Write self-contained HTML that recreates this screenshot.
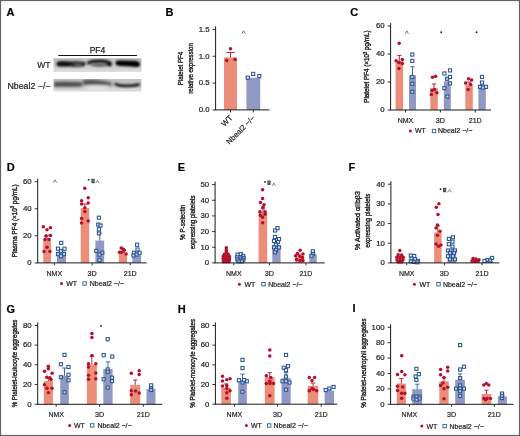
<!DOCTYPE html>
<html><head><meta charset="utf-8"><style>
html,body{margin:0;padding:0;background:#fff;}
body{width:520px;height:436px;overflow:hidden;font-family:"Liberation Sans", sans-serif;}
svg{display:block;filter:blur(0.35px);}
</style></head><body>
<svg width="520" height="436" viewBox="0 0 520 436" font-family="'Liberation Sans', sans-serif"><style>text{stroke:#222;stroke-width:0.2px;paint-order:stroke;}</style><rect x="0" y="0" width="520" height="436" fill="#fff"/><text x="6.50" y="16.00" font-size="11" text-anchor="start" font-weight="bold" fill="#000" >A</text><defs><filter id="b06" x="-20%" y="-80%" width="140%" height="260%"><feGaussianBlur stdDeviation="0.6"/></filter><filter id="b09" x="-20%" y="-80%" width="140%" height="260%"><feGaussianBlur stdDeviation="0.9"/></filter><filter id="b14" x="-20%" y="-80%" width="140%" height="260%"><feGaussianBlur stdDeviation="1.4"/></filter><linearGradient id="gw" x1="0" y1="0" x2="0" y2="1"><stop offset="0" stop-color="#b6b6b6"/><stop offset="0.25" stop-color="#c2c2c2"/><stop offset="0.65" stop-color="#cecece"/><stop offset="1" stop-color="#e0e0e0"/></linearGradient><linearGradient id="gk" x1="0" y1="0" x2="0" y2="1"><stop offset="0" stop-color="#c0c0c0"/><stop offset="0.5" stop-color="#cacaca"/><stop offset="1" stop-color="#dedede"/></linearGradient><clipPath id="cw"><rect x="53.5" y="58.3" width="88" height="13.7"/></clipPath><clipPath id="ck"><rect x="53.5" y="79" width="88" height="12.6"/></clipPath></defs><rect x="53.5" y="58.3" width="88" height="13.7" fill="url(#gw)"/><rect x="53.5" y="79" width="88" height="12.6" fill="url(#gk)"/><g clip-path="url(#cw)"><g filter="url(#b14)"><rect x="84" y="58" width="2.5" height="15" fill="#d8d8d8"/><rect x="112" y="58" width="2.5" height="15" fill="#d4d4d4"/><ellipse cx="99.5" cy="67.2" rx="10" ry="2.6" fill="#d2d2d2"/></g><g filter="url(#b09)"><path d="M56.3,63.8 Q56.3,61.2 61,61.2 Q68,61.0 73.5,62.2 L73.5,65.9 Q66,66.6 60,66.4 Q56.3,66.3 56.3,63.8 Z" fill="#080808"/><path d="M70,62.0 Q78,61.4 85,62.8 L85,66.0 Q78,67.8 70,66.4 Z" fill="#262626"/><ellipse cx="78" cy="64.6" rx="4.5" ry="1.1" fill="#6a6a6a"/><path d="M87.8,64.0 Q89.2,61.0 100,61.1 Q108.5,61.3 111.0,64.2" fill="none" stroke="#121212" stroke-width="3.4"/><path d="M70,62.6 Q78,62.0 85.5,63.2" fill="none" stroke="#111" stroke-width="1.9"/><ellipse cx="99.5" cy="65.2" rx="9" ry="1.6" fill="#5a5a5a"/><ellipse cx="109.4" cy="64.2" rx="2.4" ry="2.2" fill="#0a0a0a"/><path d="M115.4,62.6 Q115.6,60.3 120,60.4 L134,60.8 Q139.9,61.1 140,64 Q140,67.1 136.5,66.9 Q128,66.0 120,65.9 Q115.4,65.9 115.4,62.6 Z" fill="#050505"/></g></g><g clip-path="url(#ck)"><g filter="url(#b14)"><path d="M54,82.0 Q68,81.4 82,82.2 L82,86.6 Q68,87 54,86.8 Z" fill="#444"/><path d="M83,80.2 Q90,79.4 98,80.2 Q106,81.1 112,82.9 L112,85.4 Q104,84.6 96,84.4 Q89,84.4 83,84.8 Z" fill="#4a4a4a"/><ellipse cx="97" cy="88.4" rx="11" ry="2.2" fill="#e6e6e6"/></g><g filter="url(#b09)"><path d="M114.5,82.6 Q118,84.3 124,84.6 Q132,84.6 139.5,83 L139.6,86 Q132,87.4 124,87.2 Q117,86.8 114.5,85 Z" fill="#1a1a1a"/></g></g><line x1="58.3" y1="55.5" x2="137" y2="55.5" stroke="#111" stroke-width="1"/><text x="97.50" y="53.20" font-size="8.5" text-anchor="middle" font-weight="normal" fill="#222" style="stroke-width:0.25px">PF4</text><text x="50.50" y="68.30" font-size="8.6" text-anchor="end" font-weight="normal" fill="#222" style="stroke-width:0.2px">WT</text><text x="50.50" y="88.80" font-size="8.8" text-anchor="end" font-weight="normal" fill="#222" style="stroke-width:0.2px">Nbeal2 −/−</text><rect x="224" y="57.31" width="13" height="52.59" fill="#EA8D79"/><rect x="246.4" y="77.70" width="13.8" height="32.20" fill="#9099C3"/><line x1="230.5" y1="57.31" x2="230.5" y2="52.48" stroke="#B50F2C" stroke-width="0.9"/><line x1="226.3" y1="52.48" x2="234.7" y2="52.48" stroke="#B50F2C" stroke-width="0.9"/><circle cx="230.50" cy="48.72" r="1.75" fill="#B50F2C"/><circle cx="226.70" cy="60.53" r="1.75" fill="#B50F2C"/><circle cx="235.00" cy="59.45" r="1.75" fill="#B50F2C"/><rect x="246.25" y="76.15" width="3.1" height="3.1" fill="#fff" fill-opacity="0.55" stroke="#2F5994" stroke-width="1.1"/><rect x="251.65" y="72.39" width="3.1" height="3.1" fill="#fff" fill-opacity="0.55" stroke="#2F5994" stroke-width="1.1"/><rect x="257.75" y="74.54" width="3.1" height="3.1" fill="#fff" fill-opacity="0.55" stroke="#2F5994" stroke-width="1.1"/><line x1="215.6" y1="26.4" x2="215.6" y2="109.9" stroke="#1a1a1a" stroke-width="1"/><line x1="215.1" y1="109.9" x2="269.5" y2="109.9" stroke="#1a1a1a" stroke-width="1"/><line x1="212.6" y1="109.90" x2="215.6" y2="109.90" stroke="#1a1a1a" stroke-width="0.9"/><text x="209.60" y="112.20" font-size="7.8" text-anchor="end" font-weight="normal" fill="#222" >0.0</text><line x1="212.6" y1="83.07" x2="215.6" y2="83.07" stroke="#1a1a1a" stroke-width="0.9"/><text x="209.60" y="85.37" font-size="7.8" text-anchor="end" font-weight="normal" fill="#222" >0.5</text><line x1="212.6" y1="56.23" x2="215.6" y2="56.23" stroke="#1a1a1a" stroke-width="0.9"/><text x="209.60" y="58.53" font-size="7.8" text-anchor="end" font-weight="normal" fill="#222" >1.0</text><line x1="212.6" y1="29.40" x2="215.6" y2="29.40" stroke="#1a1a1a" stroke-width="0.9"/><text x="209.60" y="31.70" font-size="7.8" text-anchor="end" font-weight="normal" fill="#222" >1.5</text><line x1="230.5" y1="109.9" x2="230.5" y2="112.4" stroke="#1a1a1a" stroke-width="0.9"/><line x1="253.3" y1="109.9" x2="253.3" y2="112.4" stroke="#1a1a1a" stroke-width="0.9"/><text transform="translate(233.0,118.4) rotate(-45)" font-size="7.8" text-anchor="end" fill="#222">WT</text><text transform="translate(255.6,118.6) rotate(-45)" font-size="7.6" text-anchor="end" fill="#222">Nbeal2 −/−</text><path d="M241.70,33.80 L243.60,30.80 L245.50,33.80" fill="none" stroke="#666" stroke-width="0.85"/><text transform="translate(182.5,68.5) rotate(-90)" font-size="7.6" text-anchor="middle" fill="#222" textLength="33.4" style="stroke-width:0.38px" lengthAdjust="spacingAndGlyphs">Platelet PF4</text><text transform="translate(193.2,68.5) rotate(-90)" font-size="7.6" text-anchor="middle" fill="#222" textLength="50.5" style="stroke-width:0.38px" lengthAdjust="spacingAndGlyphs">relative expression</text><text x="165.60" y="16.00" font-size="11" text-anchor="start" font-weight="bold" fill="#000" >B</text><rect x="395.60" y="61.00" width="7.50" height="49.00" fill="#EA8D79"/><rect x="409.00" y="75.42" width="7.00" height="34.58" fill="#9099C3"/><rect x="430.30" y="88.16" width="7.50" height="21.84" fill="#EA8D79"/><rect x="443.80" y="81.30" width="7.00" height="28.70" fill="#9099C3"/><rect x="465.30" y="84.38" width="7.50" height="25.62" fill="#EA8D79"/><rect x="478.40" y="86.20" width="7.40" height="23.80" fill="#9099C3"/><line x1="399.35" y1="61.00" x2="399.35" y2="55.40" stroke="#B50F2C" stroke-width="0.9"/><line x1="397.15" y1="55.40" x2="401.55" y2="55.40" stroke="#B50F2C" stroke-width="0.9"/><circle cx="399.20" cy="43.36" r="1.75" fill="#B50F2C"/><circle cx="396.10" cy="60.86" r="1.75" fill="#B50F2C"/><circle cx="402.30" cy="59.60" r="1.75" fill="#B50F2C"/><circle cx="402.30" cy="63.38" r="1.75" fill="#B50F2C"/><circle cx="398.90" cy="62.40" r="1.75" fill="#B50F2C"/><circle cx="398.90" cy="68.56" r="1.75" fill="#B50F2C"/><line x1="412.50" y1="75.42" x2="412.50" y2="66.74" stroke="#2F5994" stroke-width="0.9"/><line x1="410.30" y1="66.74" x2="414.70" y2="66.74" stroke="#2F5994" stroke-width="0.9"/><rect x="410.75" y="53.01" width="3.1" height="3.1" fill="#fff" fill-opacity="0.55" stroke="#2F5994" stroke-width="1.1"/><rect x="410.75" y="59.31" width="3.1" height="3.1" fill="#fff" fill-opacity="0.55" stroke="#2F5994" stroke-width="1.1"/><rect x="410.75" y="75.41" width="3.1" height="3.1" fill="#fff" fill-opacity="0.55" stroke="#2F5994" stroke-width="1.1"/><rect x="410.75" y="82.27" width="3.1" height="3.1" fill="#fff" fill-opacity="0.55" stroke="#2F5994" stroke-width="1.1"/><rect x="410.75" y="90.25" width="3.1" height="3.1" fill="#fff" fill-opacity="0.55" stroke="#2F5994" stroke-width="1.1"/><line x1="434.05" y1="88.16" x2="434.05" y2="83.96" stroke="#B50F2C" stroke-width="0.9"/><line x1="431.85" y1="83.96" x2="436.25" y2="83.96" stroke="#B50F2C" stroke-width="0.9"/><circle cx="432.50" cy="77.24" r="1.75" fill="#B50F2C"/><circle cx="435.60" cy="76.26" r="1.75" fill="#B50F2C"/><circle cx="434.40" cy="89.42" r="1.75" fill="#B50F2C"/><circle cx="436.90" cy="92.78" r="1.75" fill="#B50F2C"/><circle cx="431.30" cy="94.46" r="1.75" fill="#B50F2C"/><circle cx="432.00" cy="90.54" r="1.75" fill="#B50F2C"/><line x1="447.30" y1="81.30" x2="447.30" y2="78.50" stroke="#2F5994" stroke-width="0.9"/><line x1="445.10" y1="78.50" x2="449.50" y2="78.50" stroke="#2F5994" stroke-width="0.9"/><rect x="442.85" y="71.91" width="3.1" height="3.1" fill="#fff" fill-opacity="0.55" stroke="#2F5994" stroke-width="1.1"/><rect x="448.45" y="68.83" width="3.1" height="3.1" fill="#fff" fill-opacity="0.55" stroke="#2F5994" stroke-width="1.1"/><rect x="448.45" y="75.41" width="3.1" height="3.1" fill="#fff" fill-opacity="0.55" stroke="#2F5994" stroke-width="1.1"/><rect x="445.45" y="77.23" width="3.1" height="3.1" fill="#fff" fill-opacity="0.55" stroke="#2F5994" stroke-width="1.1"/><rect x="442.85" y="86.61" width="3.1" height="3.1" fill="#fff" fill-opacity="0.55" stroke="#2F5994" stroke-width="1.1"/><rect x="445.95" y="95.01" width="3.1" height="3.1" fill="#fff" fill-opacity="0.55" stroke="#2F5994" stroke-width="1.1"/><rect x="448.45" y="81.85" width="3.1" height="3.1" fill="#fff" fill-opacity="0.55" stroke="#2F5994" stroke-width="1.1"/><line x1="469.05" y1="84.38" x2="469.05" y2="82.00" stroke="#B50F2C" stroke-width="0.9"/><line x1="466.85" y1="82.00" x2="471.25" y2="82.00" stroke="#B50F2C" stroke-width="0.9"/><circle cx="468.50" cy="78.78" r="1.75" fill="#B50F2C"/><circle cx="471.60" cy="80.04" r="1.75" fill="#B50F2C"/><circle cx="465.60" cy="83.12" r="1.75" fill="#B50F2C"/><circle cx="470.60" cy="84.38" r="1.75" fill="#B50F2C"/><circle cx="468.10" cy="89.42" r="1.75" fill="#B50F2C"/><line x1="482.10" y1="86.20" x2="482.10" y2="84.80" stroke="#2F5994" stroke-width="0.9"/><line x1="479.90" y1="84.80" x2="484.30" y2="84.80" stroke="#2F5994" stroke-width="0.9"/><rect x="480.45" y="75.41" width="3.1" height="3.1" fill="#fff" fill-opacity="0.55" stroke="#2F5994" stroke-width="1.1"/><rect x="480.45" y="81.01" width="3.1" height="3.1" fill="#fff" fill-opacity="0.55" stroke="#2F5994" stroke-width="1.1"/><rect x="478.45" y="85.35" width="3.1" height="3.1" fill="#fff" fill-opacity="0.55" stroke="#2F5994" stroke-width="1.1"/><rect x="484.45" y="85.35" width="3.1" height="3.1" fill="#fff" fill-opacity="0.55" stroke="#2F5994" stroke-width="1.1"/><rect x="481.45" y="86.05" width="3.1" height="3.1" fill="#fff" fill-opacity="0.55" stroke="#2F5994" stroke-width="1.1"/><line x1="390.60" y1="23.00" x2="390.60" y2="110.00" stroke="#1a1a1a" stroke-width="1"/><line x1="390.10" y1="110.00" x2="491.00" y2="110.00" stroke="#1a1a1a" stroke-width="1"/><line x1="387.60" y1="110.00" x2="390.60" y2="110.00" stroke="#1a1a1a" stroke-width="0.9"/><text x="384.60" y="112.30" font-size="7.8" text-anchor="end" font-weight="normal" fill="#222" >0</text><line x1="387.60" y1="82.00" x2="390.60" y2="82.00" stroke="#1a1a1a" stroke-width="0.9"/><text x="384.60" y="84.30" font-size="7.8" text-anchor="end" font-weight="normal" fill="#222" >20</text><line x1="387.60" y1="54.00" x2="390.60" y2="54.00" stroke="#1a1a1a" stroke-width="0.9"/><text x="384.60" y="56.30" font-size="7.8" text-anchor="end" font-weight="normal" fill="#222" >40</text><line x1="387.60" y1="26.00" x2="390.60" y2="26.00" stroke="#1a1a1a" stroke-width="0.9"/><text x="384.60" y="28.30" font-size="7.8" text-anchor="end" font-weight="normal" fill="#222" >60</text><line x1="405.50" y1="110.00" x2="405.50" y2="112.50" stroke="#1a1a1a" stroke-width="0.9"/><line x1="440.40" y1="110.00" x2="440.40" y2="112.50" stroke="#1a1a1a" stroke-width="0.9"/><line x1="475.20" y1="110.00" x2="475.20" y2="112.50" stroke="#1a1a1a" stroke-width="0.9"/><text x="405.50" y="122.60" font-size="8.0" text-anchor="middle" font-weight="normal" fill="#222" textLength="15.6" lengthAdjust="spacingAndGlyphs">NMX</text><text x="440.40" y="122.60" font-size="8.0" text-anchor="middle" font-weight="normal" fill="#222" textLength="9.2" lengthAdjust="spacingAndGlyphs">3D</text><text x="475.20" y="122.60" font-size="8.0" text-anchor="middle" font-weight="normal" fill="#222" textLength="13.0" lengthAdjust="spacingAndGlyphs">21D</text><text transform="translate(369.00,66.60) rotate(-90)" font-size="7.0" text-anchor="middle" fill="#222" textLength="72.4" lengthAdjust="spacingAndGlyphs" style="stroke-width:0.38px">Platelet PF4 (×10<tspan dy="-2.2" font-size="4.6">3</tspan><tspan dy="2.2"> pg/mL)</tspan></text><path d="M405.30,33.80 L406.85,30.80 L408.40,33.80" fill="none" stroke="#666" stroke-width="0.85"/><circle cx="441.20" cy="32.20" r="0.95" fill="#222"/><circle cx="476.60" cy="32.20" r="0.95" fill="#222"/><circle cx="410.40" cy="131.00" r="1.5" fill="#B50F2C"/><text x="415.00" y="133.40" font-size="7.0" text-anchor="start" font-weight="normal" fill="#222" >WT</text><rect x="432.30" y="129.30" width="3.4" height="3.4" fill="none" stroke="#2F5994" stroke-width="0.9"/><text x="438.00" y="133.40" font-size="7.0" text-anchor="start" font-weight="normal" fill="#222" >Nbeal2 −/−</text><text x="350.30" y="16.00" font-size="11" text-anchor="start" font-weight="bold" fill="#000" >C</text><rect x="43.30" y="239.22" width="7.60" height="23.68" fill="#EA8D79"/><rect x="57.00" y="251.40" width="9.00" height="11.50" fill="#9099C3"/><rect x="80.70" y="208.09" width="8.50" height="54.81" fill="#EA8D79"/><rect x="95.40" y="240.57" width="8.80" height="22.33" fill="#9099C3"/><rect x="118.80" y="253.56" width="8.30" height="9.34" fill="#EA8D79"/><rect x="132.30" y="253.97" width="8.90" height="8.93" fill="#9099C3"/><line x1="47.10" y1="239.22" x2="47.10" y2="235.16" stroke="#B50F2C" stroke-width="0.9"/><line x1="44.90" y1="235.16" x2="49.30" y2="235.16" stroke="#B50F2C" stroke-width="0.9"/><circle cx="43.30" cy="226.77" r="1.75" fill="#B50F2C"/><circle cx="50.50" cy="227.85" r="1.75" fill="#B50F2C"/><circle cx="47.00" cy="229.74" r="1.75" fill="#B50F2C"/><circle cx="45.90" cy="235.97" r="1.75" fill="#B50F2C"/><circle cx="50.50" cy="235.43" r="1.75" fill="#B50F2C"/><circle cx="45.00" cy="239.62" r="1.75" fill="#B50F2C"/><circle cx="49.00" cy="239.62" r="1.75" fill="#B50F2C"/><circle cx="47.00" cy="247.20" r="1.75" fill="#B50F2C"/><circle cx="44.00" cy="251.40" r="1.75" fill="#B50F2C"/><circle cx="50.00" cy="251.40" r="1.75" fill="#B50F2C"/><line x1="61.50" y1="251.40" x2="61.50" y2="249.37" stroke="#2F5994" stroke-width="0.9"/><line x1="59.30" y1="249.37" x2="63.70" y2="249.37" stroke="#2F5994" stroke-width="0.9"/><rect x="59.65" y="241.32" width="3.1" height="3.1" fill="#fff" fill-opacity="0.55" stroke="#2F5994" stroke-width="1.1"/><rect x="56.45" y="247.14" width="3.1" height="3.1" fill="#fff" fill-opacity="0.55" stroke="#2F5994" stroke-width="1.1"/><rect x="62.95" y="247.14" width="3.1" height="3.1" fill="#fff" fill-opacity="0.55" stroke="#2F5994" stroke-width="1.1"/><rect x="59.45" y="249.58" width="3.1" height="3.1" fill="#fff" fill-opacity="0.55" stroke="#2F5994" stroke-width="1.1"/><rect x="56.45" y="252.55" width="3.1" height="3.1" fill="#fff" fill-opacity="0.55" stroke="#2F5994" stroke-width="1.1"/><rect x="62.45" y="252.55" width="3.1" height="3.1" fill="#fff" fill-opacity="0.55" stroke="#2F5994" stroke-width="1.1"/><rect x="59.45" y="254.58" width="3.1" height="3.1" fill="#fff" fill-opacity="0.55" stroke="#2F5994" stroke-width="1.1"/><line x1="84.95" y1="208.09" x2="84.95" y2="204.03" stroke="#B50F2C" stroke-width="0.9"/><line x1="82.75" y1="204.03" x2="87.15" y2="204.03" stroke="#B50F2C" stroke-width="0.9"/><circle cx="84.80" cy="188.20" r="1.75" fill="#B50F2C"/><circle cx="81.60" cy="200.65" r="1.75" fill="#B50F2C"/><circle cx="88.20" cy="197.80" r="1.75" fill="#B50F2C"/><circle cx="81.60" cy="204.03" r="1.75" fill="#B50F2C"/><circle cx="88.20" cy="203.08" r="1.75" fill="#B50F2C"/><circle cx="84.80" cy="207.68" r="1.75" fill="#B50F2C"/><circle cx="84.80" cy="211.47" r="1.75" fill="#B50F2C"/><circle cx="81.60" cy="218.38" r="1.75" fill="#B50F2C"/><circle cx="88.20" cy="220.95" r="1.75" fill="#B50F2C"/><circle cx="81.60" cy="223.11" r="1.75" fill="#B50F2C"/><line x1="99.80" y1="240.57" x2="99.80" y2="233.13" stroke="#2F5994" stroke-width="0.9"/><line x1="97.60" y1="233.13" x2="102.00" y2="233.13" stroke="#2F5994" stroke-width="0.9"/><rect x="97.35" y="216.15" width="3.1" height="3.1" fill="#fff" fill-opacity="0.55" stroke="#2F5994" stroke-width="1.1"/><rect x="96.65" y="223.05" width="3.1" height="3.1" fill="#fff" fill-opacity="0.55" stroke="#2F5994" stroke-width="1.1"/><rect x="98.95" y="224.00" width="3.1" height="3.1" fill="#fff" fill-opacity="0.55" stroke="#2F5994" stroke-width="1.1"/><rect x="97.45" y="227.79" width="3.1" height="3.1" fill="#fff" fill-opacity="0.55" stroke="#2F5994" stroke-width="1.1"/><rect x="97.45" y="231.85" width="3.1" height="3.1" fill="#fff" fill-opacity="0.55" stroke="#2F5994" stroke-width="1.1"/><rect x="94.75" y="249.31" width="3.1" height="3.1" fill="#fff" fill-opacity="0.55" stroke="#2F5994" stroke-width="1.1"/><rect x="100.75" y="251.20" width="3.1" height="3.1" fill="#fff" fill-opacity="0.55" stroke="#2F5994" stroke-width="1.1"/><rect x="97.95" y="253.09" width="3.1" height="3.1" fill="#fff" fill-opacity="0.55" stroke="#2F5994" stroke-width="1.1"/><rect x="97.95" y="258.64" width="3.1" height="3.1" fill="#fff" fill-opacity="0.55" stroke="#2F5994" stroke-width="1.1"/><line x1="122.95" y1="253.56" x2="122.95" y2="252.34" stroke="#B50F2C" stroke-width="0.9"/><line x1="120.75" y1="252.34" x2="125.15" y2="252.34" stroke="#B50F2C" stroke-width="0.9"/><circle cx="121.20" cy="247.88" r="1.75" fill="#B50F2C"/><circle cx="123.30" cy="249.23" r="1.75" fill="#B50F2C"/><circle cx="124.30" cy="250.18" r="1.75" fill="#B50F2C"/><circle cx="119.50" cy="252.34" r="1.75" fill="#B50F2C"/><circle cx="126.10" cy="253.97" r="1.75" fill="#B50F2C"/><circle cx="121.50" cy="252.34" r="1.75" fill="#B50F2C"/><line x1="136.75" y1="253.97" x2="136.75" y2="252.75" stroke="#2F5994" stroke-width="0.9"/><line x1="134.55" y1="252.75" x2="138.95" y2="252.75" stroke="#2F5994" stroke-width="0.9"/><rect x="135.55" y="243.22" width="3.1" height="3.1" fill="#fff" fill-opacity="0.55" stroke="#2F5994" stroke-width="1.1"/><rect x="135.95" y="247.95" width="3.1" height="3.1" fill="#fff" fill-opacity="0.55" stroke="#2F5994" stroke-width="1.1"/><rect x="132.45" y="251.20" width="3.1" height="3.1" fill="#fff" fill-opacity="0.55" stroke="#2F5994" stroke-width="1.1"/><rect x="137.95" y="251.20" width="3.1" height="3.1" fill="#fff" fill-opacity="0.55" stroke="#2F5994" stroke-width="1.1"/><rect x="134.95" y="252.96" width="3.1" height="3.1" fill="#fff" fill-opacity="0.55" stroke="#2F5994" stroke-width="1.1"/><rect x="131.95" y="253.91" width="3.1" height="3.1" fill="#fff" fill-opacity="0.55" stroke="#2F5994" stroke-width="1.1"/><line x1="37.70" y1="178.70" x2="37.70" y2="262.90" stroke="#1a1a1a" stroke-width="1"/><line x1="37.20" y1="262.90" x2="146.60" y2="262.90" stroke="#1a1a1a" stroke-width="1"/><line x1="34.70" y1="262.90" x2="37.70" y2="262.90" stroke="#1a1a1a" stroke-width="0.9"/><text x="31.70" y="265.20" font-size="7.8" text-anchor="end" font-weight="normal" fill="#222" >0</text><line x1="34.70" y1="235.83" x2="37.70" y2="235.83" stroke="#1a1a1a" stroke-width="0.9"/><text x="31.70" y="238.13" font-size="7.8" text-anchor="end" font-weight="normal" fill="#222" >20</text><line x1="34.70" y1="208.77" x2="37.70" y2="208.77" stroke="#1a1a1a" stroke-width="0.9"/><text x="31.70" y="211.07" font-size="7.8" text-anchor="end" font-weight="normal" fill="#222" >40</text><line x1="34.70" y1="181.70" x2="37.70" y2="181.70" stroke="#1a1a1a" stroke-width="0.9"/><text x="31.70" y="184.00" font-size="7.8" text-anchor="end" font-weight="normal" fill="#222" >60</text><line x1="54.30" y1="262.90" x2="54.30" y2="265.40" stroke="#1a1a1a" stroke-width="0.9"/><line x1="92.20" y1="262.90" x2="92.20" y2="265.40" stroke="#1a1a1a" stroke-width="0.9"/><line x1="130.20" y1="262.90" x2="130.20" y2="265.40" stroke="#1a1a1a" stroke-width="0.9"/><text x="54.30" y="275.80" font-size="8.0" text-anchor="middle" font-weight="normal" fill="#222" textLength="15.6" lengthAdjust="spacingAndGlyphs">NMX</text><text x="92.20" y="275.80" font-size="8.0" text-anchor="middle" font-weight="normal" fill="#222" textLength="9.2" lengthAdjust="spacingAndGlyphs">3D</text><text x="130.20" y="275.80" font-size="8.0" text-anchor="middle" font-weight="normal" fill="#222" textLength="13.0" lengthAdjust="spacingAndGlyphs">21D</text><text transform="translate(16.60,220.85) rotate(-90)" font-size="7.2" text-anchor="middle" fill="#222" textLength="72.9" lengthAdjust="spacingAndGlyphs" style="stroke-width:0.38px">Plasma PF4 (×10<tspan dy="-2.2" font-size="4.6">3</tspan><tspan dy="2.2"> pg/mL)</tspan></text><path d="M53.30,182.60 L55.00,179.80 L56.70,182.60" fill="none" stroke="#666" stroke-width="0.85"/><circle cx="88.60" cy="179.60" r="0.95" fill="#222"/><rect x="91.40" y="178.70" width="3.2" height="4.5" rx="0.6" fill="#4a4a4a"/><rect x="92.50" y="180.20" width="1.0" height="1.3" fill="#9a9a9a"/><path d="M95.60,183.20 L97.40,180.40 L99.20,183.20" fill="none" stroke="#666" stroke-width="0.85"/><circle cx="61.50" cy="283.50" r="1.5" fill="#B50F2C"/><text x="66.20" y="285.90" font-size="7.0" text-anchor="start" font-weight="normal" fill="#222" >WT</text><rect x="82.90" y="281.80" width="3.4" height="3.4" fill="none" stroke="#2F5994" stroke-width="0.9"/><text x="89.70" y="285.90" font-size="7.0" text-anchor="start" font-weight="normal" fill="#222" >Nbeal2 −/−</text><text x="6.80" y="170.60" font-size="11" text-anchor="start" font-weight="bold" fill="#000" >D</text><rect x="222.30" y="257.42" width="8.00" height="5.48" fill="#EA8D79"/><rect x="236.00" y="257.89" width="8.00" height="5.01" fill="#9099C3"/><rect x="258.60" y="211.69" width="8.60" height="51.21" fill="#EA8D79"/><rect x="272.30" y="244.89" width="8.30" height="18.01" fill="#9099C3"/><rect x="295.30" y="256.32" width="8.00" height="6.58" fill="#EA8D79"/><rect x="309.30" y="254.29" width="7.50" height="8.61" fill="#9099C3"/><line x1="226.30" y1="257.42" x2="226.30" y2="256.32" stroke="#B50F2C" stroke-width="0.9"/><line x1="224.10" y1="256.32" x2="228.50" y2="256.32" stroke="#B50F2C" stroke-width="0.9"/><circle cx="226.30" cy="247.87" r="1.75" fill="#B50F2C"/><circle cx="226.30" cy="250.22" r="1.75" fill="#B50F2C"/><circle cx="226.30" cy="252.25" r="1.75" fill="#B50F2C"/><circle cx="224.40" cy="254.13" r="1.75" fill="#B50F2C"/><circle cx="228.20" cy="254.13" r="1.75" fill="#B50F2C"/><circle cx="223.30" cy="256.17" r="1.75" fill="#B50F2C"/><circle cx="226.30" cy="256.17" r="1.75" fill="#B50F2C"/><circle cx="229.30" cy="256.17" r="1.75" fill="#B50F2C"/><circle cx="223.30" cy="258.20" r="1.75" fill="#B50F2C"/><circle cx="226.30" cy="258.20" r="1.75" fill="#B50F2C"/><circle cx="229.30" cy="258.20" r="1.75" fill="#B50F2C"/><circle cx="223.30" cy="260.08" r="1.75" fill="#B50F2C"/><circle cx="226.30" cy="260.08" r="1.75" fill="#B50F2C"/><circle cx="229.30" cy="260.08" r="1.75" fill="#B50F2C"/><circle cx="223.60" cy="261.80" r="1.75" fill="#B50F2C"/><circle cx="226.30" cy="261.80" r="1.75" fill="#B50F2C"/><circle cx="229.00" cy="261.80" r="1.75" fill="#B50F2C"/><line x1="240.00" y1="257.89" x2="240.00" y2="256.95" stroke="#2F5994" stroke-width="0.9"/><line x1="237.80" y1="256.95" x2="242.20" y2="256.95" stroke="#2F5994" stroke-width="0.9"/><rect x="236.05" y="253.05" width="3.1" height="3.1" fill="#fff" fill-opacity="0.55" stroke="#2F5994" stroke-width="1.1"/><rect x="239.25" y="252.58" width="3.1" height="3.1" fill="#fff" fill-opacity="0.55" stroke="#2F5994" stroke-width="1.1"/><rect x="241.65" y="254.46" width="3.1" height="3.1" fill="#fff" fill-opacity="0.55" stroke="#2F5994" stroke-width="1.1"/><rect x="235.45" y="255.71" width="3.1" height="3.1" fill="#fff" fill-opacity="0.55" stroke="#2F5994" stroke-width="1.1"/><rect x="238.65" y="256.03" width="3.1" height="3.1" fill="#fff" fill-opacity="0.55" stroke="#2F5994" stroke-width="1.1"/><rect x="241.95" y="256.34" width="3.1" height="3.1" fill="#fff" fill-opacity="0.55" stroke="#2F5994" stroke-width="1.1"/><rect x="235.75" y="257.75" width="3.1" height="3.1" fill="#fff" fill-opacity="0.55" stroke="#2F5994" stroke-width="1.1"/><rect x="238.95" y="258.06" width="3.1" height="3.1" fill="#fff" fill-opacity="0.55" stroke="#2F5994" stroke-width="1.1"/><rect x="241.75" y="258.22" width="3.1" height="3.1" fill="#fff" fill-opacity="0.55" stroke="#2F5994" stroke-width="1.1"/><rect x="237.05" y="259.78" width="3.1" height="3.1" fill="#fff" fill-opacity="0.55" stroke="#2F5994" stroke-width="1.1"/><rect x="240.45" y="259.78" width="3.1" height="3.1" fill="#fff" fill-opacity="0.55" stroke="#2F5994" stroke-width="1.1"/><line x1="262.90" y1="211.69" x2="262.90" y2="208.87" stroke="#B50F2C" stroke-width="0.9"/><line x1="260.70" y1="208.87" x2="265.10" y2="208.87" stroke="#B50F2C" stroke-width="0.9"/><circle cx="262.60" cy="189.77" r="1.75" fill="#B50F2C"/><circle cx="262.60" cy="198.54" r="1.75" fill="#B50F2C"/><circle cx="260.50" cy="202.45" r="1.75" fill="#B50F2C"/><circle cx="264.00" cy="204.64" r="1.75" fill="#B50F2C"/><circle cx="263.00" cy="207.15" r="1.75" fill="#B50F2C"/><circle cx="260.00" cy="211.69" r="1.75" fill="#B50F2C"/><circle cx="265.00" cy="211.69" r="1.75" fill="#B50F2C"/><circle cx="260.50" cy="215.29" r="1.75" fill="#B50F2C"/><circle cx="265.00" cy="214.35" r="1.75" fill="#B50F2C"/><circle cx="262.60" cy="217.17" r="1.75" fill="#B50F2C"/><circle cx="262.60" cy="222.65" r="1.75" fill="#B50F2C"/><line x1="276.45" y1="244.89" x2="276.45" y2="242.54" stroke="#2F5994" stroke-width="0.9"/><line x1="274.25" y1="242.54" x2="278.65" y2="242.54" stroke="#2F5994" stroke-width="0.9"/><rect x="275.95" y="226.58" width="3.1" height="3.1" fill="#fff" fill-opacity="0.55" stroke="#2F5994" stroke-width="1.1"/><rect x="273.55" y="228.93" width="3.1" height="3.1" fill="#fff" fill-opacity="0.55" stroke="#2F5994" stroke-width="1.1"/><rect x="273.45" y="235.35" width="3.1" height="3.1" fill="#fff" fill-opacity="0.55" stroke="#2F5994" stroke-width="1.1"/><rect x="277.45" y="237.55" width="3.1" height="3.1" fill="#fff" fill-opacity="0.55" stroke="#2F5994" stroke-width="1.1"/><rect x="272.45" y="239.43" width="3.1" height="3.1" fill="#fff" fill-opacity="0.55" stroke="#2F5994" stroke-width="1.1"/><rect x="276.45" y="240.37" width="3.1" height="3.1" fill="#fff" fill-opacity="0.55" stroke="#2F5994" stroke-width="1.1"/><rect x="274.45" y="243.03" width="3.1" height="3.1" fill="#fff" fill-opacity="0.55" stroke="#2F5994" stroke-width="1.1"/><rect x="272.45" y="245.85" width="3.1" height="3.1" fill="#fff" fill-opacity="0.55" stroke="#2F5994" stroke-width="1.1"/><rect x="277.45" y="245.85" width="3.1" height="3.1" fill="#fff" fill-opacity="0.55" stroke="#2F5994" stroke-width="1.1"/><rect x="274.45" y="248.51" width="3.1" height="3.1" fill="#fff" fill-opacity="0.55" stroke="#2F5994" stroke-width="1.1"/><rect x="273.45" y="250.70" width="3.1" height="3.1" fill="#fff" fill-opacity="0.55" stroke="#2F5994" stroke-width="1.1"/><line x1="299.30" y1="256.32" x2="299.30" y2="255.07" stroke="#B50F2C" stroke-width="0.9"/><line x1="297.10" y1="255.07" x2="301.50" y2="255.07" stroke="#B50F2C" stroke-width="0.9"/><circle cx="300.10" cy="250.37" r="1.75" fill="#B50F2C"/><circle cx="297.50" cy="253.50" r="1.75" fill="#B50F2C"/><circle cx="303.00" cy="253.97" r="1.75" fill="#B50F2C"/><circle cx="295.50" cy="255.85" r="1.75" fill="#B50F2C"/><circle cx="300.00" cy="256.17" r="1.75" fill="#B50F2C"/><circle cx="302.50" cy="257.42" r="1.75" fill="#B50F2C"/><circle cx="296.50" cy="259.45" r="1.75" fill="#B50F2C"/><circle cx="300.00" cy="260.39" r="1.75" fill="#B50F2C"/><circle cx="303.00" cy="260.55" r="1.75" fill="#B50F2C"/><line x1="313.05" y1="254.29" x2="313.05" y2="253.03" stroke="#2F5994" stroke-width="0.9"/><line x1="310.85" y1="253.03" x2="315.25" y2="253.03" stroke="#2F5994" stroke-width="0.9"/><rect x="311.35" y="249.76" width="3.1" height="3.1" fill="#fff" fill-opacity="0.55" stroke="#2F5994" stroke-width="1.1"/><rect x="311.35" y="252.42" width="3.1" height="3.1" fill="#fff" fill-opacity="0.55" stroke="#2F5994" stroke-width="1.1"/><rect x="309.95" y="254.30" width="3.1" height="3.1" fill="#fff" fill-opacity="0.55" stroke="#2F5994" stroke-width="1.1"/><line x1="215.10" y1="181.60" x2="215.10" y2="262.90" stroke="#1a1a1a" stroke-width="1"/><line x1="214.60" y1="262.90" x2="324.70" y2="262.90" stroke="#1a1a1a" stroke-width="1"/><line x1="212.10" y1="262.90" x2="215.10" y2="262.90" stroke="#1a1a1a" stroke-width="0.9"/><text x="209.10" y="265.20" font-size="7.8" text-anchor="end" font-weight="normal" fill="#222" >0</text><line x1="212.10" y1="247.24" x2="215.10" y2="247.24" stroke="#1a1a1a" stroke-width="0.9"/><text x="209.10" y="249.54" font-size="7.8" text-anchor="end" font-weight="normal" fill="#222" >10</text><line x1="212.10" y1="231.58" x2="215.10" y2="231.58" stroke="#1a1a1a" stroke-width="0.9"/><text x="209.10" y="233.88" font-size="7.8" text-anchor="end" font-weight="normal" fill="#222" >20</text><line x1="212.10" y1="215.92" x2="215.10" y2="215.92" stroke="#1a1a1a" stroke-width="0.9"/><text x="209.10" y="218.22" font-size="7.8" text-anchor="end" font-weight="normal" fill="#222" >30</text><line x1="212.10" y1="200.26" x2="215.10" y2="200.26" stroke="#1a1a1a" stroke-width="0.9"/><text x="209.10" y="202.56" font-size="7.8" text-anchor="end" font-weight="normal" fill="#222" >40</text><line x1="212.10" y1="184.60" x2="215.10" y2="184.60" stroke="#1a1a1a" stroke-width="0.9"/><text x="209.10" y="186.90" font-size="7.8" text-anchor="end" font-weight="normal" fill="#222" >50</text><line x1="233.80" y1="262.90" x2="233.80" y2="265.40" stroke="#1a1a1a" stroke-width="0.9"/><line x1="269.40" y1="262.90" x2="269.40" y2="265.40" stroke="#1a1a1a" stroke-width="0.9"/><line x1="305.90" y1="262.90" x2="305.90" y2="265.40" stroke="#1a1a1a" stroke-width="0.9"/><text x="233.80" y="275.80" font-size="8.0" text-anchor="middle" font-weight="normal" fill="#222" textLength="15.6" lengthAdjust="spacingAndGlyphs">NMX</text><text x="269.40" y="275.80" font-size="8.0" text-anchor="middle" font-weight="normal" fill="#222" textLength="9.2" lengthAdjust="spacingAndGlyphs">3D</text><text x="305.90" y="275.80" font-size="8.0" text-anchor="middle" font-weight="normal" fill="#222" textLength="13.0" lengthAdjust="spacingAndGlyphs">21D</text><text transform="translate(185.10,222.40) rotate(-90)" font-size="7.6" text-anchor="middle" fill="#222" textLength="35.2" lengthAdjust="spacingAndGlyphs" style="stroke-width:0.38px">% P-selectin</text><text transform="translate(195.00,222.30) rotate(-90)" font-size="7.6" text-anchor="middle" fill="#222" textLength="53.8" lengthAdjust="spacingAndGlyphs" style="stroke-width:0.38px">expressing platelets</text><circle cx="265.00" cy="181.90" r="0.95" fill="#222"/><rect x="267.40" y="180.60" width="3.2" height="4.5" rx="0.6" fill="#4a4a4a"/><rect x="268.50" y="182.10" width="1.0" height="1.3" fill="#9a9a9a"/><path d="M272.30,185.80 L273.85,183.10 L275.40,185.80" fill="none" stroke="#666" stroke-width="0.85"/><circle cx="239.40" cy="284.20" r="1.5" fill="#B50F2C"/><text x="244.50" y="286.60" font-size="7.0" text-anchor="start" font-weight="normal" fill="#222" >WT</text><rect x="261.80" y="282.50" width="3.4" height="3.4" fill="none" stroke="#2F5994" stroke-width="0.9"/><text x="268.20" y="286.60" font-size="7.0" text-anchor="start" font-weight="normal" fill="#222" >Nbeal2 −/−</text><text x="177.80" y="170.60" font-size="11" text-anchor="start" font-weight="bold" fill="#000" >E</text><rect x="396.00" y="257.98" width="8.00" height="4.92" fill="#EA8D79"/><rect x="410.00" y="259.95" width="8.00" height="2.95" fill="#9099C3"/><rect x="434.10" y="232.40" width="7.50" height="30.50" fill="#EA8D79"/><rect x="447.60" y="250.50" width="8.50" height="12.40" fill="#9099C3"/><rect x="471.30" y="260.34" width="8.00" height="2.56" fill="#EA8D79"/><rect x="485.00" y="260.93" width="8.00" height="1.97" fill="#9099C3"/><line x1="400.00" y1="257.98" x2="400.00" y2="257.00" stroke="#B50F2C" stroke-width="0.9"/><line x1="397.80" y1="257.00" x2="402.20" y2="257.00" stroke="#B50F2C" stroke-width="0.9"/><circle cx="399.80" cy="250.50" r="1.75" fill="#B50F2C"/><circle cx="398.20" cy="254.83" r="1.75" fill="#B50F2C"/><circle cx="401.60" cy="255.03" r="1.75" fill="#B50F2C"/><circle cx="396.80" cy="257.19" r="1.75" fill="#B50F2C"/><circle cx="400.00" cy="257.59" r="1.75" fill="#B50F2C"/><circle cx="403.20" cy="257.19" r="1.75" fill="#B50F2C"/><circle cx="397.00" cy="259.95" r="1.75" fill="#B50F2C"/><circle cx="400.00" cy="260.15" r="1.75" fill="#B50F2C"/><circle cx="403.00" cy="259.75" r="1.75" fill="#B50F2C"/><circle cx="398.50" cy="262.11" r="1.75" fill="#B50F2C"/><circle cx="401.50" cy="261.92" r="1.75" fill="#B50F2C"/><line x1="414.00" y1="259.95" x2="414.00" y2="259.16" stroke="#2F5994" stroke-width="0.9"/><line x1="411.80" y1="259.16" x2="416.20" y2="259.16" stroke="#2F5994" stroke-width="0.9"/><rect x="409.25" y="254.07" width="3.1" height="3.1" fill="#fff" fill-opacity="0.55" stroke="#2F5994" stroke-width="1.1"/><rect x="412.65" y="254.46" width="3.1" height="3.1" fill="#fff" fill-opacity="0.55" stroke="#2F5994" stroke-width="1.1"/><rect x="409.95" y="257.02" width="3.1" height="3.1" fill="#fff" fill-opacity="0.55" stroke="#2F5994" stroke-width="1.1"/><rect x="413.45" y="257.61" width="3.1" height="3.1" fill="#fff" fill-opacity="0.55" stroke="#2F5994" stroke-width="1.1"/><rect x="416.45" y="259.38" width="3.1" height="3.1" fill="#fff" fill-opacity="0.55" stroke="#2F5994" stroke-width="1.1"/><rect x="409.25" y="259.78" width="3.1" height="3.1" fill="#fff" fill-opacity="0.55" stroke="#2F5994" stroke-width="1.1"/><rect x="412.65" y="260.37" width="3.1" height="3.1" fill="#fff" fill-opacity="0.55" stroke="#2F5994" stroke-width="1.1"/><rect x="415.85" y="260.76" width="3.1" height="3.1" fill="#fff" fill-opacity="0.55" stroke="#2F5994" stroke-width="1.1"/><line x1="437.85" y1="232.40" x2="437.85" y2="225.91" stroke="#B50F2C" stroke-width="0.9"/><line x1="435.65" y1="225.91" x2="440.05" y2="225.91" stroke="#B50F2C" stroke-width="0.9"/><circle cx="438.90" cy="203.68" r="1.75" fill="#B50F2C"/><circle cx="436.30" cy="207.22" r="1.75" fill="#B50F2C"/><circle cx="438.00" cy="214.50" r="1.75" fill="#B50F2C"/><circle cx="437.50" cy="224.93" r="1.75" fill="#B50F2C"/><circle cx="436.00" cy="228.08" r="1.75" fill="#B50F2C"/><circle cx="440.00" cy="231.22" r="1.75" fill="#B50F2C"/><circle cx="437.50" cy="235.16" r="1.75" fill="#B50F2C"/><circle cx="436.00" cy="244.01" r="1.75" fill="#B50F2C"/><circle cx="441.00" cy="245.00" r="1.75" fill="#B50F2C"/><circle cx="438.50" cy="246.18" r="1.75" fill="#B50F2C"/><line x1="451.85" y1="250.50" x2="451.85" y2="249.13" stroke="#2F5994" stroke-width="0.9"/><line x1="449.65" y1="249.13" x2="454.05" y2="249.13" stroke="#2F5994" stroke-width="0.9"/><rect x="451.35" y="235.77" width="3.1" height="3.1" fill="#fff" fill-opacity="0.55" stroke="#2F5994" stroke-width="1.1"/><rect x="447.35" y="237.35" width="3.1" height="3.1" fill="#fff" fill-opacity="0.55" stroke="#2F5994" stroke-width="1.1"/><rect x="450.95" y="240.10" width="3.1" height="3.1" fill="#fff" fill-opacity="0.55" stroke="#2F5994" stroke-width="1.1"/><rect x="447.35" y="242.66" width="3.1" height="3.1" fill="#fff" fill-opacity="0.55" stroke="#2F5994" stroke-width="1.1"/><rect x="450.95" y="245.02" width="3.1" height="3.1" fill="#fff" fill-opacity="0.55" stroke="#2F5994" stroke-width="1.1"/><rect x="446.45" y="248.95" width="3.1" height="3.1" fill="#fff" fill-opacity="0.55" stroke="#2F5994" stroke-width="1.1"/><rect x="453.45" y="248.95" width="3.1" height="3.1" fill="#fff" fill-opacity="0.55" stroke="#2F5994" stroke-width="1.1"/><rect x="448.45" y="251.32" width="3.1" height="3.1" fill="#fff" fill-opacity="0.55" stroke="#2F5994" stroke-width="1.1"/><rect x="452.45" y="251.32" width="3.1" height="3.1" fill="#fff" fill-opacity="0.55" stroke="#2F5994" stroke-width="1.1"/><rect x="446.45" y="254.66" width="3.1" height="3.1" fill="#fff" fill-opacity="0.55" stroke="#2F5994" stroke-width="1.1"/><rect x="451.45" y="254.66" width="3.1" height="3.1" fill="#fff" fill-opacity="0.55" stroke="#2F5994" stroke-width="1.1"/><rect x="448.45" y="257.81" width="3.1" height="3.1" fill="#fff" fill-opacity="0.55" stroke="#2F5994" stroke-width="1.1"/><rect x="453.45" y="257.81" width="3.1" height="3.1" fill="#fff" fill-opacity="0.55" stroke="#2F5994" stroke-width="1.1"/><line x1="475.30" y1="260.34" x2="475.30" y2="259.95" stroke="#B50F2C" stroke-width="0.9"/><line x1="473.10" y1="259.95" x2="477.50" y2="259.95" stroke="#B50F2C" stroke-width="0.9"/><circle cx="473.00" cy="258.57" r="1.75" fill="#B50F2C"/><circle cx="476.00" cy="258.96" r="1.75" fill="#B50F2C"/><circle cx="479.00" cy="259.75" r="1.75" fill="#B50F2C"/><circle cx="472.00" cy="260.93" r="1.75" fill="#B50F2C"/><circle cx="475.00" cy="261.33" r="1.75" fill="#B50F2C"/><circle cx="478.00" cy="261.33" r="1.75" fill="#B50F2C"/><line x1="489.00" y1="260.93" x2="489.00" y2="260.34" stroke="#2F5994" stroke-width="0.9"/><line x1="486.80" y1="260.34" x2="491.20" y2="260.34" stroke="#2F5994" stroke-width="0.9"/><rect x="490.45" y="256.43" width="3.1" height="3.1" fill="#fff" fill-opacity="0.55" stroke="#2F5994" stroke-width="1.1"/><rect x="485.95" y="258.40" width="3.1" height="3.1" fill="#fff" fill-opacity="0.55" stroke="#2F5994" stroke-width="1.1"/><rect x="482.95" y="259.38" width="3.1" height="3.1" fill="#fff" fill-opacity="0.55" stroke="#2F5994" stroke-width="1.1"/><rect x="488.45" y="258.99" width="3.1" height="3.1" fill="#fff" fill-opacity="0.55" stroke="#2F5994" stroke-width="1.1"/><line x1="390.90" y1="181.20" x2="390.90" y2="262.90" stroke="#1a1a1a" stroke-width="1"/><line x1="390.40" y1="262.90" x2="499.40" y2="262.90" stroke="#1a1a1a" stroke-width="1"/><line x1="387.90" y1="262.90" x2="390.90" y2="262.90" stroke="#1a1a1a" stroke-width="0.9"/><text x="384.90" y="265.20" font-size="7.8" text-anchor="end" font-weight="normal" fill="#222" >0</text><line x1="387.90" y1="243.22" x2="390.90" y2="243.22" stroke="#1a1a1a" stroke-width="0.9"/><text x="384.90" y="245.52" font-size="7.8" text-anchor="end" font-weight="normal" fill="#222" >10</text><line x1="387.90" y1="223.55" x2="390.90" y2="223.55" stroke="#1a1a1a" stroke-width="0.9"/><text x="384.90" y="225.85" font-size="7.8" text-anchor="end" font-weight="normal" fill="#222" >20</text><line x1="387.90" y1="203.88" x2="390.90" y2="203.88" stroke="#1a1a1a" stroke-width="0.9"/><text x="384.90" y="206.18" font-size="7.8" text-anchor="end" font-weight="normal" fill="#222" >30</text><line x1="387.90" y1="184.20" x2="390.90" y2="184.20" stroke="#1a1a1a" stroke-width="0.9"/><text x="384.90" y="186.50" font-size="7.8" text-anchor="end" font-weight="normal" fill="#222" >40</text><line x1="406.70" y1="262.90" x2="406.70" y2="265.40" stroke="#1a1a1a" stroke-width="0.9"/><line x1="444.40" y1="262.90" x2="444.40" y2="265.40" stroke="#1a1a1a" stroke-width="0.9"/><line x1="482.00" y1="262.90" x2="482.00" y2="265.40" stroke="#1a1a1a" stroke-width="0.9"/><text x="406.70" y="275.80" font-size="8.0" text-anchor="middle" font-weight="normal" fill="#222" textLength="15.6" lengthAdjust="spacingAndGlyphs">NMX</text><text x="444.40" y="275.80" font-size="8.0" text-anchor="middle" font-weight="normal" fill="#222" textLength="9.2" lengthAdjust="spacingAndGlyphs">3D</text><text x="482.00" y="275.80" font-size="8.0" text-anchor="middle" font-weight="normal" fill="#222" textLength="13.0" lengthAdjust="spacingAndGlyphs">21D</text><text transform="translate(360.00,220.55) rotate(-90)" font-size="7.6" text-anchor="middle" fill="#222" textLength="58.7" lengthAdjust="spacingAndGlyphs" style="stroke-width:0.38px">% Activated αIIbβ3</text><text transform="translate(370.00,220.55) rotate(-90)" font-size="7.6" text-anchor="middle" fill="#222" textLength="53.7" lengthAdjust="spacingAndGlyphs" style="stroke-width:0.38px">expressing platelets</text><circle cx="440.60" cy="189.10" r="0.95" fill="#222"/><rect x="443.00" y="187.70" width="3.2" height="4.5" rx="0.6" fill="#4a4a4a"/><rect x="444.10" y="189.20" width="1.0" height="1.3" fill="#9a9a9a"/><path d="M447.60,192.30 L449.50,189.70 L451.40,192.30" fill="none" stroke="#666" stroke-width="0.85"/><circle cx="414.40" cy="284.20" r="1.5" fill="#B50F2C"/><text x="419.50" y="286.60" font-size="7.0" text-anchor="start" font-weight="normal" fill="#222" >WT</text><rect x="436.80" y="282.50" width="3.4" height="3.4" fill="none" stroke="#2F5994" stroke-width="0.9"/><text x="442.90" y="286.60" font-size="7.0" text-anchor="start" font-weight="normal" fill="#222" >Nbeal2 −/−</text><text x="348.60" y="170.60" font-size="11" text-anchor="start" font-weight="bold" fill="#000" >F</text><rect x="43.80" y="380.93" width="9.10" height="23.37" fill="#EA8D79"/><rect x="60.20" y="375.70" width="8.60" height="28.60" fill="#9099C3"/><rect x="86.90" y="364.46" width="9.90" height="39.84" fill="#EA8D79"/><rect x="103.30" y="368.99" width="9.30" height="35.31" fill="#9099C3"/><rect x="130.20" y="384.87" width="10.00" height="19.43" fill="#EA8D79"/><rect x="146.50" y="389.01" width="9.00" height="15.29" fill="#9099C3"/><line x1="48.35" y1="380.93" x2="48.35" y2="377.67" stroke="#B50F2C" stroke-width="0.9"/><line x1="46.15" y1="377.67" x2="50.55" y2="377.67" stroke="#B50F2C" stroke-width="0.9"/><circle cx="48.30" cy="366.13" r="1.75" fill="#B50F2C"/><circle cx="48.30" cy="368.80" r="1.75" fill="#B50F2C"/><circle cx="44.50" cy="371.16" r="1.75" fill="#B50F2C"/><circle cx="52.10" cy="373.33" r="1.75" fill="#B50F2C"/><circle cx="46.80" cy="377.18" r="1.75" fill="#B50F2C"/><circle cx="49.80" cy="377.67" r="1.75" fill="#B50F2C"/><circle cx="51.00" cy="379.45" r="1.75" fill="#B50F2C"/><circle cx="44.50" cy="384.77" r="1.75" fill="#B50F2C"/><circle cx="47.00" cy="388.22" r="1.75" fill="#B50F2C"/><circle cx="52.00" cy="388.22" r="1.75" fill="#B50F2C"/><circle cx="48.30" cy="392.76" r="1.75" fill="#B50F2C"/><line x1="64.50" y1="375.70" x2="64.50" y2="368.01" stroke="#2F5994" stroke-width="0.9"/><line x1="62.30" y1="368.01" x2="66.70" y2="368.01" stroke="#2F5994" stroke-width="0.9"/><rect x="62.95" y="353.34" width="3.1" height="3.1" fill="#fff" fill-opacity="0.55" stroke="#2F5994" stroke-width="1.1"/><rect x="59.35" y="362.71" width="3.1" height="3.1" fill="#fff" fill-opacity="0.55" stroke="#2F5994" stroke-width="1.1"/><rect x="66.95" y="365.47" width="3.1" height="3.1" fill="#fff" fill-opacity="0.55" stroke="#2F5994" stroke-width="1.1"/><rect x="66.95" y="373.26" width="3.1" height="3.1" fill="#fff" fill-opacity="0.55" stroke="#2F5994" stroke-width="1.1"/><rect x="59.35" y="375.63" width="3.1" height="3.1" fill="#fff" fill-opacity="0.55" stroke="#2F5994" stroke-width="1.1"/><rect x="66.95" y="378.69" width="3.1" height="3.1" fill="#fff" fill-opacity="0.55" stroke="#2F5994" stroke-width="1.1"/><rect x="62.95" y="390.72" width="3.1" height="3.1" fill="#fff" fill-opacity="0.55" stroke="#2F5994" stroke-width="1.1"/><line x1="91.85" y1="364.46" x2="91.85" y2="356.57" stroke="#B50F2C" stroke-width="0.9"/><line x1="89.65" y1="356.57" x2="94.05" y2="356.57" stroke="#B50F2C" stroke-width="0.9"/><circle cx="91.90" cy="333.49" r="1.75" fill="#B50F2C"/><circle cx="91.90" cy="337.53" r="1.75" fill="#B50F2C"/><circle cx="91.90" cy="355.58" r="1.75" fill="#B50F2C"/><circle cx="88.50" cy="363.86" r="1.75" fill="#B50F2C"/><circle cx="95.80" cy="363.86" r="1.75" fill="#B50F2C"/><circle cx="88.50" cy="366.92" r="1.75" fill="#B50F2C"/><circle cx="95.80" cy="372.94" r="1.75" fill="#B50F2C"/><circle cx="88.50" cy="375.21" r="1.75" fill="#B50F2C"/><circle cx="95.80" cy="378.85" r="1.75" fill="#B50F2C"/><circle cx="88.50" cy="379.25" r="1.75" fill="#B50F2C"/><line x1="107.95" y1="368.99" x2="107.95" y2="361.89" stroke="#2F5994" stroke-width="0.9"/><line x1="105.75" y1="361.89" x2="110.15" y2="361.89" stroke="#2F5994" stroke-width="0.9"/><rect x="106.15" y="337.66" width="3.1" height="3.1" fill="#fff" fill-opacity="0.55" stroke="#2F5994" stroke-width="1.1"/><rect x="102.15" y="353.63" width="3.1" height="3.1" fill="#fff" fill-opacity="0.55" stroke="#2F5994" stroke-width="1.1"/><rect x="110.65" y="355.02" width="3.1" height="3.1" fill="#fff" fill-opacity="0.55" stroke="#2F5994" stroke-width="1.1"/><rect x="106.15" y="367.84" width="3.1" height="3.1" fill="#fff" fill-opacity="0.55" stroke="#2F5994" stroke-width="1.1"/><rect x="106.15" y="370.20" width="3.1" height="3.1" fill="#fff" fill-opacity="0.55" stroke="#2F5994" stroke-width="1.1"/><rect x="102.15" y="377.70" width="3.1" height="3.1" fill="#fff" fill-opacity="0.55" stroke="#2F5994" stroke-width="1.1"/><rect x="110.45" y="376.12" width="3.1" height="3.1" fill="#fff" fill-opacity="0.55" stroke="#2F5994" stroke-width="1.1"/><rect x="110.45" y="379.57" width="3.1" height="3.1" fill="#fff" fill-opacity="0.55" stroke="#2F5994" stroke-width="1.1"/><rect x="106.15" y="385.98" width="3.1" height="3.1" fill="#fff" fill-opacity="0.55" stroke="#2F5994" stroke-width="1.1"/><line x1="135.20" y1="384.87" x2="135.20" y2="380.04" stroke="#B50F2C" stroke-width="0.9"/><line x1="133.00" y1="380.04" x2="137.40" y2="380.04" stroke="#B50F2C" stroke-width="0.9"/><circle cx="131.30" cy="373.23" r="1.75" fill="#B50F2C"/><circle cx="139.20" cy="370.77" r="1.75" fill="#B50F2C"/><circle cx="139.20" cy="374.52" r="1.75" fill="#B50F2C"/><circle cx="131.30" cy="390.79" r="1.75" fill="#B50F2C"/><circle cx="135.50" cy="391.08" r="1.75" fill="#B50F2C"/><circle cx="139.20" cy="392.96" r="1.75" fill="#B50F2C"/><circle cx="131.30" cy="394.63" r="1.75" fill="#B50F2C"/><line x1="151.00" y1="389.01" x2="151.00" y2="387.53" stroke="#2F5994" stroke-width="0.9"/><line x1="148.80" y1="387.53" x2="153.20" y2="387.53" stroke="#2F5994" stroke-width="0.9"/><rect x="149.55" y="383.81" width="3.1" height="3.1" fill="#fff" fill-opacity="0.55" stroke="#2F5994" stroke-width="1.1"/><rect x="149.55" y="386.67" width="3.1" height="3.1" fill="#fff" fill-opacity="0.55" stroke="#2F5994" stroke-width="1.1"/><rect x="149.55" y="388.45" width="3.1" height="3.1" fill="#fff" fill-opacity="0.55" stroke="#2F5994" stroke-width="1.1"/><line x1="37.70" y1="322.40" x2="37.70" y2="404.30" stroke="#1a1a1a" stroke-width="1"/><line x1="37.20" y1="404.30" x2="162.30" y2="404.30" stroke="#1a1a1a" stroke-width="1"/><line x1="34.70" y1="404.30" x2="37.70" y2="404.30" stroke="#1a1a1a" stroke-width="0.9"/><text x="31.70" y="406.60" font-size="7.8" text-anchor="end" font-weight="normal" fill="#222" >0</text><line x1="34.70" y1="384.57" x2="37.70" y2="384.57" stroke="#1a1a1a" stroke-width="0.9"/><text x="31.70" y="386.88" font-size="7.8" text-anchor="end" font-weight="normal" fill="#222" >20</text><line x1="34.70" y1="364.85" x2="37.70" y2="364.85" stroke="#1a1a1a" stroke-width="0.9"/><text x="31.70" y="367.15" font-size="7.8" text-anchor="end" font-weight="normal" fill="#222" >40</text><line x1="34.70" y1="345.12" x2="37.70" y2="345.12" stroke="#1a1a1a" stroke-width="0.9"/><text x="31.70" y="347.43" font-size="7.8" text-anchor="end" font-weight="normal" fill="#222" >60</text><line x1="34.70" y1="325.40" x2="37.70" y2="325.40" stroke="#1a1a1a" stroke-width="0.9"/><text x="31.70" y="327.70" font-size="7.8" text-anchor="end" font-weight="normal" fill="#222" >80</text><line x1="56.20" y1="404.30" x2="56.20" y2="406.80" stroke="#1a1a1a" stroke-width="0.9"/><line x1="99.60" y1="404.30" x2="99.60" y2="406.80" stroke="#1a1a1a" stroke-width="0.9"/><line x1="143.30" y1="404.30" x2="143.30" y2="406.80" stroke="#1a1a1a" stroke-width="0.9"/><text x="56.20" y="417.40" font-size="8.0" text-anchor="middle" font-weight="normal" fill="#222" textLength="15.6" lengthAdjust="spacingAndGlyphs">NMX</text><text x="99.60" y="417.40" font-size="8.0" text-anchor="middle" font-weight="normal" fill="#222" textLength="9.2" lengthAdjust="spacingAndGlyphs">3D</text><text x="143.30" y="417.40" font-size="8.0" text-anchor="middle" font-weight="normal" fill="#222" textLength="13.0" lengthAdjust="spacingAndGlyphs">21D</text><text transform="translate(16.90,363.45) rotate(-90)" font-size="7.6" text-anchor="middle" fill="#222" textLength="87.7" lengthAdjust="spacingAndGlyphs" style="stroke-width:0.38px">% Platelet-leukocyte aggregates</text><circle cx="101.00" cy="325.90" r="0.95" fill="#222"/><circle cx="69.70" cy="425.40" r="1.5" fill="#B50F2C"/><text x="74.00" y="427.80" font-size="7.0" text-anchor="start" font-weight="normal" fill="#222" >WT</text><rect x="90.50" y="423.70" width="3.4" height="3.4" fill="none" stroke="#2F5994" stroke-width="0.9"/><text x="97.40" y="427.80" font-size="7.0" text-anchor="start" font-weight="normal" fill="#222" >Nbeal2 −/−</text><text x="6.50" y="312.50" font-size="11" text-anchor="start" font-weight="bold" fill="#000" >G</text><rect x="221.30" y="387.75" width="9.60" height="16.45" fill="#EA8D79"/><rect x="238.20" y="380.66" width="8.60" height="23.54" fill="#9099C3"/><rect x="264.80" y="377.21" width="9.80" height="26.99" fill="#EA8D79"/><rect x="281.50" y="378.10" width="9.20" height="26.10" fill="#9099C3"/><rect x="307.70" y="385.88" width="10.60" height="18.32" fill="#EA8D79"/><rect x="324.60" y="390.61" width="9.50" height="13.59" fill="#9099C3"/><line x1="226.10" y1="387.75" x2="226.10" y2="383.91" stroke="#B50F2C" stroke-width="0.9"/><line x1="223.90" y1="383.91" x2="228.30" y2="383.91" stroke="#B50F2C" stroke-width="0.9"/><circle cx="222.50" cy="376.13" r="1.75" fill="#B50F2C"/><circle cx="226.80" cy="379.77" r="1.75" fill="#B50F2C"/><circle cx="230.10" cy="378.69" r="1.75" fill="#B50F2C"/><circle cx="222.50" cy="380.95" r="1.75" fill="#B50F2C"/><circle cx="222.50" cy="385.88" r="1.75" fill="#B50F2C"/><circle cx="226.80" cy="385.49" r="1.75" fill="#B50F2C"/><circle cx="226.80" cy="388.54" r="1.75" fill="#B50F2C"/><circle cx="230.00" cy="390.80" r="1.75" fill="#B50F2C"/><circle cx="226.80" cy="392.77" r="1.75" fill="#B50F2C"/><circle cx="226.80" cy="398.29" r="1.75" fill="#B50F2C"/><line x1="242.50" y1="380.66" x2="242.50" y2="374.16" stroke="#2F5994" stroke-width="0.9"/><line x1="240.30" y1="374.16" x2="244.70" y2="374.16" stroke="#2F5994" stroke-width="0.9"/><rect x="240.95" y="358.32" width="3.1" height="3.1" fill="#fff" fill-opacity="0.55" stroke="#2F5994" stroke-width="1.1"/><rect x="240.95" y="366.50" width="3.1" height="3.1" fill="#fff" fill-opacity="0.55" stroke="#2F5994" stroke-width="1.1"/><rect x="237.35" y="378.71" width="3.1" height="3.1" fill="#fff" fill-opacity="0.55" stroke="#2F5994" stroke-width="1.1"/><rect x="245.25" y="379.70" width="3.1" height="3.1" fill="#fff" fill-opacity="0.55" stroke="#2F5994" stroke-width="1.1"/><rect x="240.95" y="380.98" width="3.1" height="3.1" fill="#fff" fill-opacity="0.55" stroke="#2F5994" stroke-width="1.1"/><rect x="242.45" y="378.52" width="3.1" height="3.1" fill="#fff" fill-opacity="0.55" stroke="#2F5994" stroke-width="1.1"/><rect x="240.95" y="390.24" width="3.1" height="3.1" fill="#fff" fill-opacity="0.55" stroke="#2F5994" stroke-width="1.1"/><line x1="269.70" y1="377.21" x2="269.70" y2="372.68" stroke="#B50F2C" stroke-width="0.9"/><line x1="267.50" y1="372.68" x2="271.90" y2="372.68" stroke="#B50F2C" stroke-width="0.9"/><circle cx="269.80" cy="349.93" r="1.75" fill="#B50F2C"/><circle cx="269.80" cy="356.03" r="1.75" fill="#B50F2C"/><circle cx="266.30" cy="375.63" r="1.75" fill="#B50F2C"/><circle cx="270.80" cy="377.60" r="1.75" fill="#B50F2C"/><circle cx="266.30" cy="383.61" r="1.75" fill="#B50F2C"/><circle cx="270.00" cy="383.61" r="1.75" fill="#B50F2C"/><circle cx="273.50" cy="383.61" r="1.75" fill="#B50F2C"/><circle cx="269.80" cy="381.25" r="1.75" fill="#B50F2C"/><circle cx="269.80" cy="395.83" r="1.75" fill="#B50F2C"/><line x1="286.10" y1="378.10" x2="286.10" y2="372.68" stroke="#2F5994" stroke-width="0.9"/><line x1="283.90" y1="372.68" x2="288.30" y2="372.68" stroke="#2F5994" stroke-width="0.9"/><rect x="284.45" y="353.40" width="3.1" height="3.1" fill="#fff" fill-opacity="0.55" stroke="#2F5994" stroke-width="1.1"/><rect x="282.15" y="366.20" width="3.1" height="3.1" fill="#fff" fill-opacity="0.55" stroke="#2F5994" stroke-width="1.1"/><rect x="286.45" y="364.63" width="3.1" height="3.1" fill="#fff" fill-opacity="0.55" stroke="#2F5994" stroke-width="1.1"/><rect x="284.45" y="368.57" width="3.1" height="3.1" fill="#fff" fill-opacity="0.55" stroke="#2F5994" stroke-width="1.1"/><rect x="284.45" y="374.97" width="3.1" height="3.1" fill="#fff" fill-opacity="0.55" stroke="#2F5994" stroke-width="1.1"/><rect x="280.95" y="379.70" width="3.1" height="3.1" fill="#fff" fill-opacity="0.55" stroke="#2F5994" stroke-width="1.1"/><rect x="287.95" y="380.98" width="3.1" height="3.1" fill="#fff" fill-opacity="0.55" stroke="#2F5994" stroke-width="1.1"/><rect x="284.45" y="379.70" width="3.1" height="3.1" fill="#fff" fill-opacity="0.55" stroke="#2F5994" stroke-width="1.1"/><rect x="284.45" y="388.17" width="3.1" height="3.1" fill="#fff" fill-opacity="0.55" stroke="#2F5994" stroke-width="1.1"/><line x1="313.00" y1="385.88" x2="313.00" y2="383.02" stroke="#B50F2C" stroke-width="0.9"/><line x1="310.80" y1="383.02" x2="315.20" y2="383.02" stroke="#B50F2C" stroke-width="0.9"/><circle cx="309.30" cy="377.51" r="1.75" fill="#B50F2C"/><circle cx="314.60" cy="377.51" r="1.75" fill="#B50F2C"/><circle cx="312.00" cy="380.56" r="1.75" fill="#B50F2C"/><circle cx="309.30" cy="390.80" r="1.75" fill="#B50F2C"/><circle cx="313.50" cy="389.52" r="1.75" fill="#B50F2C"/><circle cx="316.70" cy="390.80" r="1.75" fill="#B50F2C"/><circle cx="312.00" cy="388.44" r="1.75" fill="#B50F2C"/><line x1="329.35" y1="390.61" x2="329.35" y2="389.43" stroke="#2F5994" stroke-width="0.9"/><line x1="327.15" y1="389.43" x2="331.55" y2="389.43" stroke="#2F5994" stroke-width="0.9"/><rect x="324.15" y="388.47" width="3.1" height="3.1" fill="#fff" fill-opacity="0.55" stroke="#2F5994" stroke-width="1.1"/><rect x="327.75" y="386.99" width="3.1" height="3.1" fill="#fff" fill-opacity="0.55" stroke="#2F5994" stroke-width="1.1"/><rect x="332.05" y="385.41" width="3.1" height="3.1" fill="#fff" fill-opacity="0.55" stroke="#2F5994" stroke-width="1.1"/><line x1="215.40" y1="322.40" x2="215.40" y2="404.20" stroke="#1a1a1a" stroke-width="1"/><line x1="214.90" y1="404.20" x2="337.30" y2="404.20" stroke="#1a1a1a" stroke-width="1"/><line x1="212.40" y1="404.20" x2="215.40" y2="404.20" stroke="#1a1a1a" stroke-width="0.9"/><text x="209.40" y="406.50" font-size="7.8" text-anchor="end" font-weight="normal" fill="#222" >0</text><line x1="212.40" y1="384.50" x2="215.40" y2="384.50" stroke="#1a1a1a" stroke-width="0.9"/><text x="209.40" y="386.80" font-size="7.8" text-anchor="end" font-weight="normal" fill="#222" >20</text><line x1="212.40" y1="364.80" x2="215.40" y2="364.80" stroke="#1a1a1a" stroke-width="0.9"/><text x="209.40" y="367.10" font-size="7.8" text-anchor="end" font-weight="normal" fill="#222" >40</text><line x1="212.40" y1="345.10" x2="215.40" y2="345.10" stroke="#1a1a1a" stroke-width="0.9"/><text x="209.40" y="347.40" font-size="7.8" text-anchor="end" font-weight="normal" fill="#222" >60</text><line x1="212.40" y1="325.40" x2="215.40" y2="325.40" stroke="#1a1a1a" stroke-width="0.9"/><text x="209.40" y="327.70" font-size="7.8" text-anchor="end" font-weight="normal" fill="#222" >80</text><line x1="234.40" y1="404.20" x2="234.40" y2="406.70" stroke="#1a1a1a" stroke-width="0.9"/><line x1="277.50" y1="404.20" x2="277.50" y2="406.70" stroke="#1a1a1a" stroke-width="0.9"/><line x1="321.20" y1="404.20" x2="321.20" y2="406.70" stroke="#1a1a1a" stroke-width="0.9"/><text x="234.40" y="417.40" font-size="8.0" text-anchor="middle" font-weight="normal" fill="#222" textLength="15.6" lengthAdjust="spacingAndGlyphs">NMX</text><text x="277.50" y="417.40" font-size="8.0" text-anchor="middle" font-weight="normal" fill="#222" textLength="9.2" lengthAdjust="spacingAndGlyphs">3D</text><text x="321.20" y="417.40" font-size="8.0" text-anchor="middle" font-weight="normal" fill="#222" textLength="13.0" lengthAdjust="spacingAndGlyphs">21D</text><text transform="translate(195.00,363.40) rotate(-90)" font-size="7.6" text-anchor="middle" fill="#222" textLength="88.8" lengthAdjust="spacingAndGlyphs" style="stroke-width:0.38px">% Platelet-monocyte aggregates</text><circle cx="246.40" cy="425.50" r="1.5" fill="#B50F2C"/><text x="251.00" y="427.90" font-size="7.0" text-anchor="start" font-weight="normal" fill="#222" >WT</text><rect x="267.50" y="423.80" width="3.4" height="3.4" fill="none" stroke="#2F5994" stroke-width="0.9"/><text x="273.60" y="427.90" font-size="7.0" text-anchor="start" font-weight="normal" fill="#222" >Nbeal2 −/−</text><text x="177.80" y="312.50" font-size="11" text-anchor="start" font-weight="bold" fill="#000" >H</text><rect x="396.80" y="383.51" width="9.10" height="20.79" fill="#EA8D79"/><rect x="412.20" y="389.13" width="10.00" height="15.17" fill="#9099C3"/><rect x="439.30" y="381.28" width="9.40" height="23.02" fill="#EA8D79"/><rect x="455.20" y="379.74" width="9.70" height="24.56" fill="#9099C3"/><rect x="481.70" y="393.98" width="9.50" height="10.32" fill="#EA8D79"/><rect x="497.80" y="396.37" width="9.10" height="7.93" fill="#9099C3"/><line x1="401.35" y1="383.51" x2="401.35" y2="378.58" stroke="#B50F2C" stroke-width="0.9"/><line x1="399.15" y1="378.58" x2="403.55" y2="378.58" stroke="#B50F2C" stroke-width="0.9"/><circle cx="401.70" cy="355.87" r="1.75" fill="#B50F2C"/><circle cx="401.70" cy="371.57" r="1.75" fill="#B50F2C"/><circle cx="397.50" cy="374.42" r="1.75" fill="#B50F2C"/><circle cx="404.90" cy="374.73" r="1.75" fill="#B50F2C"/><circle cx="397.50" cy="386.28" r="1.75" fill="#B50F2C"/><circle cx="402.70" cy="386.98" r="1.75" fill="#B50F2C"/><circle cx="397.50" cy="390.52" r="1.75" fill="#B50F2C"/><circle cx="404.90" cy="393.29" r="1.75" fill="#B50F2C"/><circle cx="401.70" cy="393.29" r="1.75" fill="#B50F2C"/><circle cx="401.70" cy="398.14" r="1.75" fill="#B50F2C"/><line x1="417.20" y1="389.13" x2="417.20" y2="384.20" stroke="#2F5994" stroke-width="0.9"/><line x1="415.00" y1="384.20" x2="419.40" y2="384.20" stroke="#2F5994" stroke-width="0.9"/><rect x="414.85" y="367.25" width="3.1" height="3.1" fill="#fff" fill-opacity="0.55" stroke="#2F5994" stroke-width="1.1"/><rect x="417.35" y="372.57" width="3.1" height="3.1" fill="#fff" fill-opacity="0.55" stroke="#2F5994" stroke-width="1.1"/><rect x="414.15" y="374.95" width="3.1" height="3.1" fill="#fff" fill-opacity="0.55" stroke="#2F5994" stroke-width="1.1"/><rect x="414.85" y="378.42" width="3.1" height="3.1" fill="#fff" fill-opacity="0.55" stroke="#2F5994" stroke-width="1.1"/><rect x="411.95" y="395.13" width="3.1" height="3.1" fill="#fff" fill-opacity="0.55" stroke="#2F5994" stroke-width="1.1"/><rect x="417.95" y="395.13" width="3.1" height="3.1" fill="#fff" fill-opacity="0.55" stroke="#2F5994" stroke-width="1.1"/><rect x="414.85" y="395.13" width="3.1" height="3.1" fill="#fff" fill-opacity="0.55" stroke="#2F5994" stroke-width="1.1"/><rect x="411.95" y="397.05" width="3.1" height="3.1" fill="#fff" fill-opacity="0.55" stroke="#2F5994" stroke-width="1.1"/><rect x="417.95" y="397.05" width="3.1" height="3.1" fill="#fff" fill-opacity="0.55" stroke="#2F5994" stroke-width="1.1"/><rect x="414.95" y="398.13" width="3.1" height="3.1" fill="#fff" fill-opacity="0.55" stroke="#2F5994" stroke-width="1.1"/><line x1="444.00" y1="381.28" x2="444.00" y2="377.58" stroke="#B50F2C" stroke-width="0.9"/><line x1="441.80" y1="377.58" x2="446.20" y2="377.58" stroke="#B50F2C" stroke-width="0.9"/><circle cx="440.60" cy="369.50" r="1.75" fill="#B50F2C"/><circle cx="447.70" cy="367.19" r="1.75" fill="#B50F2C"/><circle cx="447.70" cy="371.11" r="1.75" fill="#B50F2C"/><circle cx="440.60" cy="374.81" r="1.75" fill="#B50F2C"/><circle cx="444.00" cy="377.58" r="1.75" fill="#B50F2C"/><circle cx="443.00" cy="382.97" r="1.75" fill="#B50F2C"/><circle cx="440.60" cy="385.44" r="1.75" fill="#B50F2C"/><circle cx="447.70" cy="387.36" r="1.75" fill="#B50F2C"/><circle cx="444.00" cy="388.67" r="1.75" fill="#B50F2C"/><circle cx="444.00" cy="398.68" r="1.75" fill="#B50F2C"/><line x1="460.05" y1="379.74" x2="460.05" y2="373.96" stroke="#2F5994" stroke-width="0.9"/><line x1="457.85" y1="373.96" x2="462.25" y2="373.96" stroke="#2F5994" stroke-width="0.9"/><rect x="458.55" y="343.54" width="3.1" height="3.1" fill="#fff" fill-opacity="0.55" stroke="#2F5994" stroke-width="1.1"/><rect x="462.45" y="365.17" width="3.1" height="3.1" fill="#fff" fill-opacity="0.55" stroke="#2F5994" stroke-width="1.1"/><rect x="458.55" y="367.95" width="3.1" height="3.1" fill="#fff" fill-opacity="0.55" stroke="#2F5994" stroke-width="1.1"/><rect x="458.55" y="376.57" width="3.1" height="3.1" fill="#fff" fill-opacity="0.55" stroke="#2F5994" stroke-width="1.1"/><rect x="458.55" y="383.88" width="3.1" height="3.1" fill="#fff" fill-opacity="0.55" stroke="#2F5994" stroke-width="1.1"/><rect x="454.45" y="387.12" width="3.1" height="3.1" fill="#fff" fill-opacity="0.55" stroke="#2F5994" stroke-width="1.1"/><rect x="462.45" y="387.12" width="3.1" height="3.1" fill="#fff" fill-opacity="0.55" stroke="#2F5994" stroke-width="1.1"/><rect x="458.55" y="387.12" width="3.1" height="3.1" fill="#fff" fill-opacity="0.55" stroke="#2F5994" stroke-width="1.1"/><rect x="458.55" y="389.58" width="3.1" height="3.1" fill="#fff" fill-opacity="0.55" stroke="#2F5994" stroke-width="1.1"/><rect x="458.55" y="394.43" width="3.1" height="3.1" fill="#fff" fill-opacity="0.55" stroke="#2F5994" stroke-width="1.1"/><line x1="486.45" y1="393.98" x2="486.45" y2="390.21" stroke="#B50F2C" stroke-width="0.9"/><line x1="484.25" y1="390.21" x2="488.65" y2="390.21" stroke="#B50F2C" stroke-width="0.9"/><circle cx="483.80" cy="384.90" r="1.75" fill="#B50F2C"/><circle cx="486.30" cy="383.59" r="1.75" fill="#B50F2C"/><circle cx="488.70" cy="384.90" r="1.75" fill="#B50F2C"/><circle cx="483.80" cy="398.53" r="1.75" fill="#B50F2C"/><circle cx="487.00" cy="398.53" r="1.75" fill="#B50F2C"/><circle cx="490.50" cy="398.53" r="1.75" fill="#B50F2C"/><circle cx="485.50" cy="399.68" r="1.75" fill="#B50F2C"/><line x1="502.35" y1="396.37" x2="502.35" y2="395.06" stroke="#2F5994" stroke-width="0.9"/><line x1="500.15" y1="395.06" x2="504.55" y2="395.06" stroke="#2F5994" stroke-width="0.9"/><rect x="500.45" y="392.05" width="3.1" height="3.1" fill="#fff" fill-opacity="0.55" stroke="#2F5994" stroke-width="1.1"/><rect x="500.45" y="396.51" width="3.1" height="3.1" fill="#fff" fill-opacity="0.55" stroke="#2F5994" stroke-width="1.1"/><rect x="500.45" y="394.28" width="3.1" height="3.1" fill="#fff" fill-opacity="0.55" stroke="#2F5994" stroke-width="1.1"/><line x1="390.60" y1="324.30" x2="390.60" y2="404.30" stroke="#1a1a1a" stroke-width="1"/><line x1="390.10" y1="404.30" x2="513.40" y2="404.30" stroke="#1a1a1a" stroke-width="1"/><line x1="387.60" y1="404.30" x2="390.60" y2="404.30" stroke="#1a1a1a" stroke-width="0.9"/><text x="384.60" y="406.60" font-size="7.8" text-anchor="end" font-weight="normal" fill="#222" >0</text><line x1="387.60" y1="388.90" x2="390.60" y2="388.90" stroke="#1a1a1a" stroke-width="0.9"/><text x="384.60" y="391.20" font-size="7.8" text-anchor="end" font-weight="normal" fill="#222" >20</text><line x1="387.60" y1="373.50" x2="390.60" y2="373.50" stroke="#1a1a1a" stroke-width="0.9"/><text x="384.60" y="375.80" font-size="7.8" text-anchor="end" font-weight="normal" fill="#222" >40</text><line x1="387.60" y1="358.10" x2="390.60" y2="358.10" stroke="#1a1a1a" stroke-width="0.9"/><text x="384.60" y="360.40" font-size="7.8" text-anchor="end" font-weight="normal" fill="#222" >60</text><line x1="387.60" y1="342.70" x2="390.60" y2="342.70" stroke="#1a1a1a" stroke-width="0.9"/><text x="384.60" y="345.00" font-size="7.8" text-anchor="end" font-weight="normal" fill="#222" >80</text><line x1="387.60" y1="327.30" x2="390.60" y2="327.30" stroke="#1a1a1a" stroke-width="0.9"/><text x="384.60" y="329.60" font-size="7.8" text-anchor="end" font-weight="normal" fill="#222" >100</text><line x1="409.40" y1="404.30" x2="409.40" y2="406.80" stroke="#1a1a1a" stroke-width="0.9"/><line x1="451.60" y1="404.30" x2="451.60" y2="406.80" stroke="#1a1a1a" stroke-width="0.9"/><line x1="494.30" y1="404.30" x2="494.30" y2="406.80" stroke="#1a1a1a" stroke-width="0.9"/><text x="409.40" y="417.40" font-size="8.0" text-anchor="middle" font-weight="normal" fill="#222" textLength="15.6" lengthAdjust="spacingAndGlyphs">NMX</text><text x="451.60" y="417.40" font-size="8.0" text-anchor="middle" font-weight="normal" fill="#222" textLength="9.2" lengthAdjust="spacingAndGlyphs">3D</text><text x="494.30" y="417.40" font-size="8.0" text-anchor="middle" font-weight="normal" fill="#222" textLength="13.0" lengthAdjust="spacingAndGlyphs">21D</text><text transform="translate(366.00,363.15) rotate(-90)" font-size="7.6" text-anchor="middle" fill="#222" textLength="89.3" lengthAdjust="spacingAndGlyphs" style="stroke-width:0.38px">% Platelet-neutrophil aggregates</text><circle cx="421.80" cy="426.10" r="1.5" fill="#B50F2C"/><text x="426.40" y="428.50" font-size="7.0" text-anchor="start" font-weight="normal" fill="#222" >WT</text><rect x="443.00" y="424.40" width="3.4" height="3.4" fill="none" stroke="#2F5994" stroke-width="0.9"/><text x="449.50" y="428.50" font-size="7.0" text-anchor="start" font-weight="normal" fill="#222" >Nbeal2 −/−</text><text x="352.60" y="312.30" font-size="11" text-anchor="start" font-weight="bold" fill="#000" >I</text><rect x="0.5" y="0.5" width="519" height="435" fill="none" stroke="#636363" stroke-width="1.2"/></svg>
</body></html>
